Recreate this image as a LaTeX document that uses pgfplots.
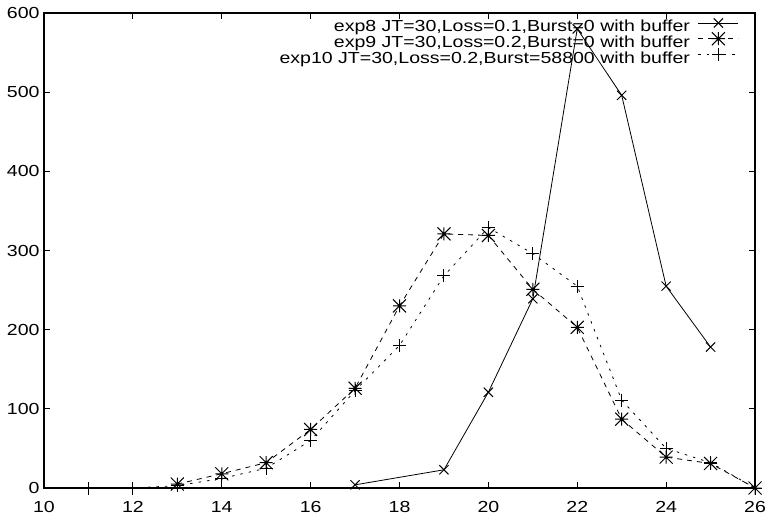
\documentclass[border=0pt]{standalone}
\usepackage{pgfplots}
\pgfplotsset{compat=1.18}
\usepackage{fontspec}
\setmainfont{Liberation Sans}[FakeStretch=1.22]
\pgfdeclareplotmark{gpstar}{%
  \pgfpathmoveto{\pgfqpoint{-\pgfplotmarksize}{0pt}}\pgfpathlineto{\pgfqpoint{\pgfplotmarksize}{0pt}}%
  \pgfpathmoveto{\pgfqpoint{0pt}{-\pgfplotmarksize}}\pgfpathlineto{\pgfqpoint{0pt}{\pgfplotmarksize}}%
  \pgfpathmoveto{\pgfqpoint{-\pgfplotmarksize}{-\pgfplotmarksize}}\pgfpathlineto{\pgfqpoint{\pgfplotmarksize}{\pgfplotmarksize}}%
  \pgfpathmoveto{\pgfqpoint{-\pgfplotmarksize}{\pgfplotmarksize}}\pgfpathlineto{\pgfqpoint{\pgfplotmarksize}{-\pgfplotmarksize}}%
  \pgfusepathqstroke}
\begin{document}
\begin{tikzpicture}
\useasboundingbox (-44pt,-32pt) rectangle (721pt,488pt);
\begin{axis}[
  scale only axis, width=711pt, height=475pt,
  xmin=10, xmax=26, ymin=0, ymax=600,
  xtick={10,12,...,26}, ytick={0,100,...,600},
  tick align=inside, major tick length=6pt,
  axis line style={line width=1.3pt},
  tick style={line width=1pt, black},
  font=\fontsize{16}{19}\selectfont,
  /pgf/number format/assume math mode=true,
  yticklabel style={xshift=-1pt},
  xticklabel style={yshift=-10pt},
  legend plot pos=right,
  legend cell align=right,
  legend image code/.code={\draw[mark repeat=2,mark phase=2,#1] plot coordinates {(0pt,4.5pt)(20pt,4.5pt)(40pt,4.5pt)};},
  legend style={draw=none, fill=none, at={(rel axis cs:1,1)}, anchor=north east, xshift=-16pt, yshift=-5pt,
    inner sep=0pt, row sep=-4.5pt,
    nodes={inner xsep=2pt, inner ysep=1.5pt, text height=12pt, text depth=3.5pt},
    /tikz/every odd column/.append style={column sep=6pt}},
  every axis plot/.append style={black, line width=0.8pt, mark size=6.5pt, mark options={solid, line width=1pt}},
]
\addplot[solid, mark=x] coordinates {
 (17,4) (19,23) (20,121) (21,239) (22,580) (23,496) (24,255) (25,178)};
\addlegendentry{exp8 JT=30,Loss=0.1,Burst=0 with buffer}
\addplot[dash pattern=on 5pt off 5pt, mark=gpstar] coordinates {
 (13,5) (14,18) (15,32) (16,74) (17,126) (18,230) (19,321) (20,319) (21,251) (22,203) (23,87) (24,39) (25,31) (26,0)};
\addlegendentry{exp9 JT=30,Loss=0.2,Burst=0 with buffer}
\addplot[dash pattern=on 2.5pt off 6pt, mark=+] coordinates {
 (11,0) (12,0) (13,3) (14,12) (15,25) (16,60) (17,123) (18,180) (19,268) (20,329) (21,296) (22,255) (23,111) (24,50) (25,32) (26,0)};
\addlegendentry{exp10 JT=30,Loss=0.2,Burst=58800 with buffer}
\end{axis}
\end{tikzpicture}
\end{document}
